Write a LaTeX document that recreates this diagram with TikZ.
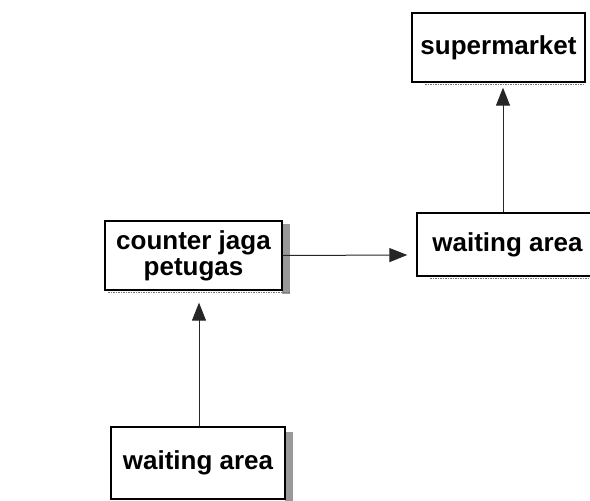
\documentclass[tikz,border=0pt]{standalone}
\usepackage{fontspec}
\setmainfont{Liberation Sans}
\usetikzlibrary{arrows.meta,calc}
\begin{document}
\begin{tikzpicture}[x=1pt,y=-1pt,
  box/.style={draw=black, line width=1.3pt, rectangle, inner sep=0pt,
    font=\fontsize{26}{26}\selectfont\bfseries, align=center},
  arr/.style={draw=black!85, line width=1pt,
    -{Triangle[length=18pt,width=14pt]}},
  shade/.style={fill=black!40, draw=none},
  grain/.style={draw=black!55, line width=1pt, dash pattern=on 1.5pt off 1pt}]
\useasboundingbox (0,0) rectangle (590,501);

% soft shadows along the box edges
\fill[shade] (282,224) rectangle (290,294);
\fill[shade] (285,432) rectangle (293,501);
\draw[grain] (108,292) -- (290,292);
\draw[grain] (425,84) -- (585,84);
\draw[grain] (430,278) -- (590,278);

% boxes
\node[box, minimum width=173pt, minimum height=69pt] (sm) at (498.5,47.5) {supermarket};
\node[box, minimum width=181pt, minimum height=63pt] (wr) at (507.5,244.5) {waiting area};
\node[box, minimum width=177pt, minimum height=69pt] (cj) at (193.5,255.5) {counter jaga\\petugas};
\node[box, minimum width=174pt, minimum height=72pt] (wb) at (198,463) {waiting area};

% flow
\draw[arr] ([xshift=1pt]wb.north) -- ([xshift=5.5pt,yshift=-12pt]cj.south);
\draw[arr] (cj.east) -- ([xshift=-9pt,yshift=-10.5pt]wr.west);
\draw[arr] ([xshift=-4.5pt]wr.north) -- ([xshift=4.5pt,yshift=-5pt]sm.south);
\end{tikzpicture}
\end{document}
